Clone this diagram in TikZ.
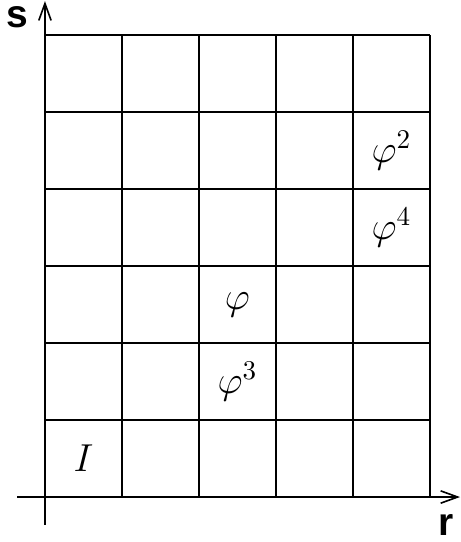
\documentclass[tikz,border=0pt]{standalone}
\usepackage{amsmath,amssymb}
\usepackage{fontspec}
\setsansfont{Liberation Sans}
\usetikzlibrary{arrows.meta}

\begin{document}
\begin{tikzpicture}[line width=0.75pt,
      axis/.style={-{Straight Barb[length=2.2mm, width=1.6mm]}, line width=0.6pt},
      entry/.style={font=\Large},
      axislabel/.style={font=\Large\sffamily\bfseries}
    ]
    \useasboundingbox (-0.584,-0.584) rectangle (5.403,6.455);
    \draw (0,0) grid (5,6);

    \coordinate (xstart) at (-0.36,0);
    \coordinate (xend) at (5.39,0);
    \coordinate (ystart) at (0,-0.36);
    \coordinate (yend) at (0,6.44);
    \draw[axis] (xstart) -- (xend);
    \draw[axis] (ystart) -- (yend);

    \node[axislabel] (slabel) at (-0.36,6.23) {s};
    \node[axislabel] (rlabel) at (5.21,-0.36) {r};

    \node[entry] (id)   at (0.5,0.5) {$I$};
    \node[entry] (phi)  at (2.5,2.5) {$\varphi$};
    \node[entry] (phi3) at (2.5,1.5) {$\varphi^3$};
    \node[entry] (phi2) at (4.5,4.5) {$\varphi^2$};
    \node[entry] (phi4) at (4.5,3.5) {$\varphi^4$};
  \end{tikzpicture}
\end{document}
